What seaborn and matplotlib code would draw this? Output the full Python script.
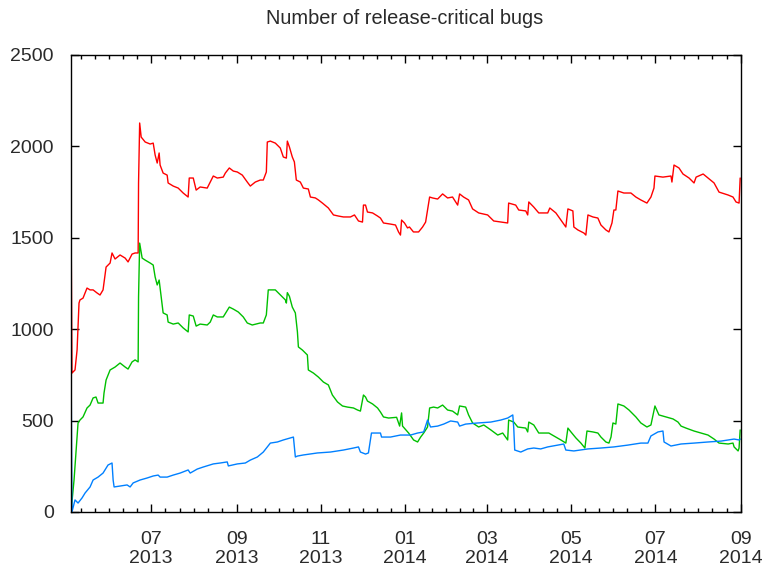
import numpy as np
import pandas as pd
import matplotlib
matplotlib.use("Agg")
import matplotlib.pyplot as plt
import matplotlib.dates as mdates
import seaborn as sns

# day offsets from the first sample, number of bugs
start_date = "2013-05-04"

red_all = [
    (0, 1665), (0.7, 760), (2.9, 777), (4.4, 886), (5.8, 1143), (6.5, 1160), (8.7, 1170),
    (11.6, 1225), (13.8, 1215), (16, 1215), (18.9, 1198), (21, 1187), (23.2, 1215),
    (25.4, 1340), (28.3, 1362), (29.7, 1417), (31.9, 1384), (35.5, 1406), (39.2, 1389),
    (41.3, 1368), (44.2, 1411), (46.4, 1417), (48.6, 1417), (48.9, 1800), (49.7, 2128),
    (50.8, 2051), (53.7, 2024), (57.3, 2013), (59.5, 2018), (60.9, 1953), (62.4, 1909),
    (63.8, 1964), (64.5, 1898), (66.7, 1854), (69.6, 1843), (70.3, 1800), (74, 1783),
    (77.6, 1772), (81.2, 1745), (84.8, 1723), (85.6, 1827), (88.5, 1827), (90.6, 1761),
    (93.5, 1778), (98.6, 1772), (100.8, 1805), (103, 1838), (105.9, 1827), (110.2, 1832),
    (111.7, 1854), (114.6, 1882), (117.5, 1865), (120.4, 1860), (124, 1843), (127.6, 1805),
    (129.8, 1783), (133.4, 1805), (137, 1816), (139.2, 1816), (141.4, 1860), (142.1, 2024),
    (144.3, 2029), (147.9, 2018), (151.5, 1991), (153.7, 1942), (155.9, 1936), (156.6, 2029),
    (158.1, 1997), (160.2, 1942), (161.7, 1915), (163.1, 1816), (166, 1805), (168.2, 1772),
    (171.8, 1767), (173.3, 1723), (176.9, 1718), (179.1, 1707), (182, 1690), (186.3, 1663),
    (190, 1625), (193.6, 1619), (197.2, 1614), (202.3, 1614), (205.2, 1625), (208.1, 1592),
    (211, 1586), (211.7, 1679), (213.2, 1679), (214.6, 1641), (218.3, 1636), (221.9, 1619),
    (224, 1608), (226.2, 1581), (231.3, 1575), (234.9, 1570), (237.1, 1532), (238.5, 1515),
    (239.3, 1597), (241.4, 1581), (243.6, 1554), (245, 1559), (247.9, 1532), (251.6, 1532),
    (254.5, 1559), (256.7, 1586), (258.1, 1652), (259.6, 1723), (261.7, 1718), (265.4, 1712),
    (269, 1740), (272.6, 1718), (276.2, 1723), (279.9, 1679), (281.3, 1740), (284.2, 1723),
    (287.8, 1707), (290.7, 1658), (295.1, 1636), (301.6, 1625), (306, 1592), (316.1, 1581),
    (316.8, 1690), (321.9, 1679), (324.1, 1652), (329.2, 1647), (330.6, 1625), (331.4, 1696),
    (335, 1668), (338.6, 1636), (345.1, 1636), (346.6, 1663), (351, 1636), (354.6, 1597),
    (358.2, 1559), (359.7, 1658), (363.3, 1647), (364, 1559), (366.9, 1543), (371.3, 1526),
    (372.7, 1515), (374.2, 1625), (377.8, 1614), (381.4, 1608), (383.6, 1570), (387.2, 1543),
    (389.4, 1532), (391.6, 1581), (393, 1652), (394.4, 1652), (395.9, 1756), (400.2, 1745),
    (405.3, 1745), (408.9, 1723), (412.5, 1707), (416.9, 1690), (419.8, 1723), (422, 1772),
    (422.7, 1838), (428.5, 1832), (434.3, 1838), (435, 1805), (436.5, 1898), (440.1, 1882),
    (443, 1849), (447.4, 1827), (451, 1800), (452.5, 1832), (457.6, 1849), (461.1, 1827),
    (465.5, 1800), (469.1, 1750), (475.7, 1734), (479.2, 1723), (481.4, 1696), (483.6, 1690),
    (484.4, 1827),
]

green_testing = [
    (0, 0), (2.2, 175), (5.1, 487), (6.5, 503), (8.7, 520), (11.6, 569), (13.8, 585),
    (16, 624), (18.1, 629), (19.6, 596), (23.2, 596), (23.9, 651), (25.4, 722), (28.3, 777),
    (31.9, 793), (35.5, 815), (39.2, 793), (41.3, 782), (44.2, 821), (46.4, 832), (48.6, 821),
    (48.9, 1176), (49.7, 1471), (51.5, 1389), (53.7, 1378), (57.3, 1362), (59.5, 1351),
    (60.9, 1286), (62.4, 1242), (63.8, 1269), (64.5, 1225), (66.7, 1089), (69.6, 1078),
    (70.3, 1039), (74, 1028), (77.6, 1034), (81.2, 1007), (84.8, 985), (85.6, 1078),
    (88.5, 1072), (90.6, 1017), (93.5, 1028), (98.6, 1023), (100.8, 1039), (103, 1078),
    (105.9, 1067), (110.2, 1067), (112.4, 1094), (114.6, 1121), (117.5, 1110), (121.1, 1094),
    (124.7, 1067), (127.6, 1034), (131.2, 1023), (137, 1034), (139.2, 1034), (141.4, 1078),
    (142.8, 1215), (147.9, 1215), (153, 1176), (155.2, 1160), (155.9, 1143), (156.6, 1200),
    (158.1, 1180), (160.2, 1121), (162.4, 1089), (163.9, 985), (164.6, 903), (167.5, 886),
    (171.1, 859), (171.8, 777), (175.5, 760), (179.1, 738), (182.7, 711), (186.3, 695),
    (189.2, 640), (192.9, 602), (196.5, 580), (200.1, 574), (204.5, 569), (207.4, 558),
    (209.5, 552), (211.7, 640), (213.2, 629), (214.6, 607), (218.3, 591), (221.9, 569),
    (224, 547), (226.2, 520), (229.9, 514), (235.7, 518), (237.9, 470), (239.3, 542),
    (240, 470), (244.4, 432), (248, 394), (250.9, 383), (253.1, 410), (255.3, 432),
    (258.1, 465), (259.6, 569), (262.5, 574), (265.4, 569), (269, 585), (272.6, 558),
    (276.2, 552), (279.9, 531), (281.3, 580), (285.7, 574), (287.8, 531), (290.7, 487),
    (295.1, 465), (298.8, 476), (303.9, 449), (308.9, 421), (312.5, 432), (316.1, 394),
    (316.8, 503), (320.5, 492), (323.4, 465), (329.2, 459), (330.6, 438), (331.4, 492),
    (335, 476), (338.6, 432), (345.9, 432), (351, 410), (354.6, 394), (358.2, 377),
    (359.7, 459), (361.9, 438), (365.5, 405), (369.1, 377), (372, 350), (373.5, 443),
    (377.8, 438), (381.4, 432), (383.6, 410), (387.2, 383), (389.4, 377), (390.9, 410),
    (392.3, 487), (394.4, 481), (395.9, 591), (400.2, 580), (403.9, 558), (408.9, 520),
    (412.5, 487), (416.9, 465), (419.8, 476), (421.3, 531), (422.7, 580), (425.6, 531),
    (430.7, 520), (435.8, 509), (439.4, 492), (441.6, 470), (445.2, 459), (451, 443),
    (456.1, 432), (461.1, 421), (465.5, 399), (469.1, 377), (475.7, 372), (479.2, 377),
    (480, 356), (482.9, 334), (483.6, 350), (484.4, 449),
]

blue_stable = [
    (0, 897), (0.7, 0), (2.9, 66), (5.1, 49), (8, 77), (10.2, 104), (13.8, 137), (16, 175),
    (19.6, 191), (23.2, 213), (26.8, 257), (29.7, 268), (30.5, 175), (31.2, 137),
    (35.5, 142), (40.6, 148), (42.8, 137), (45, 159), (50, 175), (55.1, 186), (59.5, 197),
    (63.1, 202), (64.5, 191), (69.6, 191), (74, 202), (79, 213), (84.8, 230), (86.3, 213),
    (91.4, 235), (95.7, 246), (103, 263), (108, 268), (113.1, 274), (113.9, 252),
    (120.4, 263), (126.2, 268), (129.8, 284), (134.9, 301), (139.2, 328), (144.3, 377),
    (149.4, 383), (153.7, 394), (161, 410), (162.4, 301), (163.9, 306), (168.2, 312),
    (178.4, 323), (187.8, 328), (197.2, 339), (204.5, 350), (208.1, 356), (209.5, 328),
    (213.2, 317), (215.3, 323), (217.5, 432), (224, 432), (224.8, 410), (231.3, 410),
    (238.5, 421), (245.8, 421), (250.9, 432), (255.3, 438), (258.1, 503), (260.3, 465),
    (265.4, 470), (269.8, 481), (274.8, 498), (279.9, 492), (281.3, 470), (285.7, 481),
    (294.4, 487), (303.9, 492), (311.1, 503), (316.1, 514), (319.8, 531), (320.5, 459),
    (321.2, 339), (325.6, 328), (330.6, 345), (335, 350), (340, 345), (345.1, 356),
    (352.4, 366), (356.7, 372), (358.2, 339), (364, 334), (374.2, 345), (383.6, 350),
    (393, 356), (403.1, 366), (412.5, 377), (417.6, 377), (419.8, 416), (424.9, 438),
    (428.5, 443), (429.3, 383), (434.3, 361), (441.6, 372), (451, 377), (461.1, 383),
    (470.6, 388), (480, 399), (483.6, 394), (484.4, 399),
]

series_names = ["all", "testing", "stable"]
series_colors = ["#ff0000", "#00c000", "#0080ff"]

sns.set_theme(style="ticks")
plt.rcParams["font.family"] = ["Liberation Sans", "DejaVu Sans"]

frames = []
for name, points in zip(series_names, [red_all, green_testing, blue_stable]):
    days = [p[0] for p in points]
    bugs = [p[1] for p in points]
    frames.append(pd.DataFrame({
        "date": pd.Timestamp(start_date) + pd.to_timedelta(days, unit="D"),
        "bugs": bugs,
        "series": name,
    }))
df = pd.concat(frames, ignore_index=True)

fig = plt.figure(figsize=(7.62, 5.69), dpi=100)
ax = fig.add_axes([71 / 762, 1 - 512 / 569, 670 / 762, 457 / 569])

sns.lineplot(data=df, x="date", y="bugs", hue="series", hue_order=series_names,
             palette=series_colors, linewidth=1.0, estimator=None, sort=False,
             legend=False, ax=ax)

ax.set_xlim(pd.Timestamp(start_date), pd.Timestamp("2014-09-01"))
ax.set_ylim(0, 2500)
ax.set_yticks(np.arange(0, 2501, 500))
ax.set_xlabel("")
ax.set_ylabel("")

ax.xaxis.set_major_locator(mdates.MonthLocator(bymonth=[1, 3, 5, 7, 9, 11]))
ax.xaxis.set_major_formatter(mdates.DateFormatter("%m\n%Y"))
majors = mdates.date2num(pd.date_range("2013-05-01", "2014-09-01", freq="2MS"))
minors = []
for a, b in zip(majors[:-1], majors[1:]):
    minors.extend(np.linspace(a, b, 7)[1:-1])
ax.set_xticks(minors, minor=True)

for s in ax.spines.values():
    s.set_visible(True)
    s.set_color("black")
    s.set_linewidth(1.0)

ax.tick_params(which="both", direction="in", top=True, right=True,
               colors="black", labelcolor="#2a2a2a", width=1.0)
ax.tick_params(which="major", length=6, labelsize=14)
ax.tick_params(which="minor", length=3)
ax.tick_params(axis="x", which="major", pad=14)
ax.tick_params(axis="y", which="major", pad=12.5)

fig.canvas.draw()
for lbl in ax.get_xticklabels():
    lbl.set_linespacing(1.1)

fig.text(405 / 762, 1 - 18 / 569, "Number of release-critical bugs",
         ha="center", va="center", fontsize=14.4, color="#2a2a2a")

fig.savefig("out.png", dpi=100)
